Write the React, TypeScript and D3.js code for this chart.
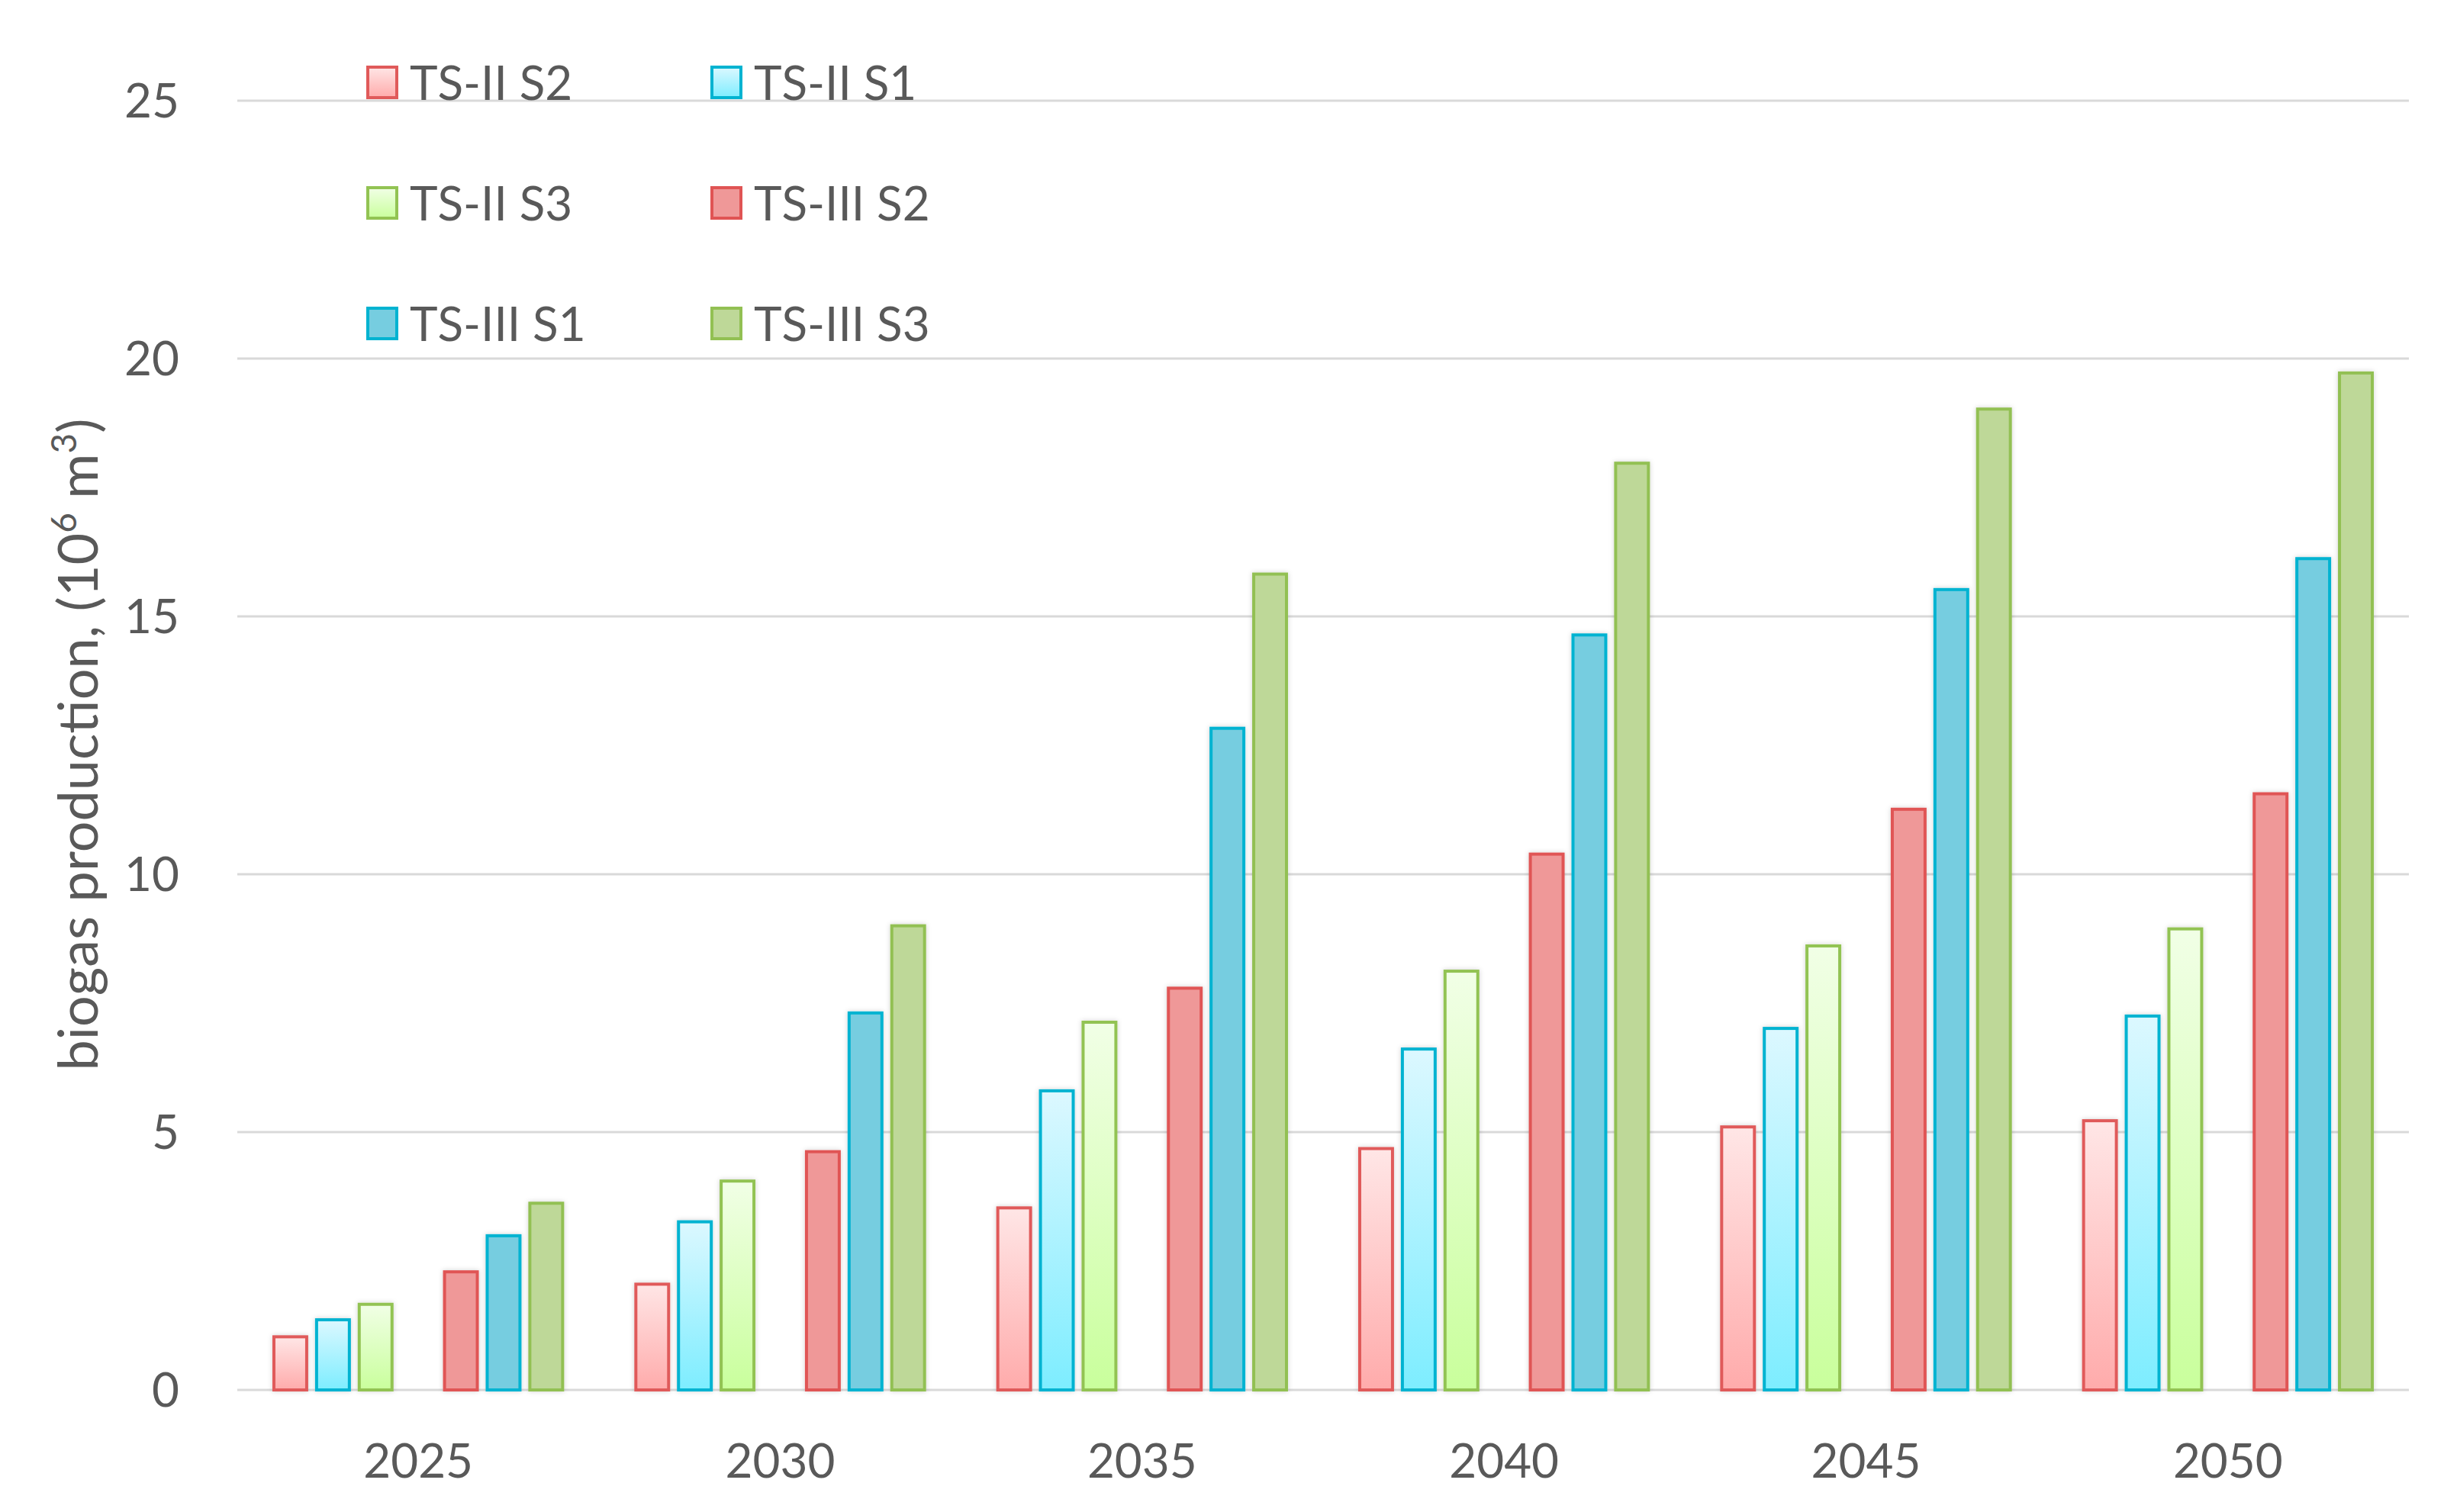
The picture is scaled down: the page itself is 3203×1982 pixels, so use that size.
import React from "react";
import * as d3 from "d3";

const years = ["2025", "2030", "2035", "2040", "2045", "2050"];
const seriesNames = ["TS-II S2", "TS-II S1", "TS-II S3", "TS-III S2", "TS-III S1", "TS-III S3"];
const tsIIS2 = [1.06, 2.08, 3.56, 4.71, 5.13, 5.25];
const tsIIS1 = [1.39, 3.29, 5.83, 6.64, 7.04, 7.28];
const tsIIS3 = [1.69, 4.08, 7.16, 8.15, 8.64, 8.97];
const tsIIIS2 = [2.32, 4.65, 7.82, 10.42, 11.29, 11.59];
const tsIIIS1 = [3.02, 7.34, 12.86, 14.67, 15.55, 16.15];
const tsIIIS3 = [3.65, 9.03, 15.85, 18.0, 19.05, 19.75];
const yTicks = [0, 5, 10, 15, 20, 25];
// slot index of each series within a category (slot 3 is an empty gap)
const slots = [0, 1, 2, 4, 5, 6];

const seriesValues = [tsIIS2, tsIIS1, tsIIS3, tsIIIS2, tsIIIS1, tsIIIS3];

type Style = { stroke: string; top: string; bottom: string };
const styles: Style[] = [
  { stroke: "#e05a5a", top: "#ffe6e6", bottom: "#ffabab" },
  { stroke: "#00b3d1", top: "#dcf8ff", bottom: "#7dedff" },
  { stroke: "#92c353", top: "#f1ffe6", bottom: "#c9ff9c" },
  { stroke: "#e05454", top: "#ef9898", bottom: "#ef9898" },
  { stroke: "#00b3d1", top: "#76cde0", bottom: "#76cde0" },
  { stroke: "#92c053", top: "#bed898", bottom: "#bed898" },
];

const W = 3203;
const H = 1982;
const left = 311;
const right = 3157;
const y0 = 1822;
const y25 = 132;
const FONT = "Lato, 'Open Sans', sans-serif";
const TEXT = "#595959";

export default function App() {
  const x = d3.scaleBand<string>().domain(years).range([left, right]).padding(0);
  const y = d3.scaleLinear().domain([0, 25]).range([y0, y25]);
  const pitch = 55.9;
  const inner = d3
    .scaleBand<number>()
    .domain(d3.range(7))
    .range([-3.5 * pitch, 3.5 * pitch])
    .paddingInner(0.16)
    .paddingOuter(0.08);
  const bw = inner.bandwidth();
  const sw = 4;

  const legendRows = [108, 266, 424];
  const legendCols = [480, 931];

  return (
    <svg
      width={W}
      height={H}
      viewBox={`0 0 ${W} ${H}`}
      style={{ position: "absolute", left: 0, top: 0, background: "#fff" }}
      fontFamily={FONT}
    >
      <defs>
        {styles.map((s, i) => (
          <linearGradient key={i} id={`g${i}`} x1="0" y1="0" x2="0" y2="1">
            <stop offset="0%" stopColor={s.top} />
            <stop offset="100%" stopColor={s.bottom} />
          </linearGradient>
        ))}
        <filter id="sh" x="-30%" y="-5%" width="160%" height="110%">
          <feDropShadow dx="0" dy="0" stdDeviation="3" floodColor="#000" floodOpacity="0.18" />
        </filter>
      </defs>

      {/* gridlines */}
      {yTicks.map((t) => (
        <line
          key={t}
          x1={left}
          x2={right}
          y1={y(t)}
          y2={y(t)}
          stroke="#d9d9d9"
          strokeWidth={3}
        />
      ))}

      {/* y tick labels */}
      {yTicks.map((t) => (
        <text
          key={t}
          x={235}
          y={y(t)}
          dy="0.35em"
          textAnchor="end"
          fontSize={62}
          fill={TEXT}
        >
          {t}
        </text>
      ))}

      {/* axis title */}
      <text
        transform={`translate(128, 976) rotate(-90)`}
        textAnchor="middle"
        fontSize={72}
        fill={TEXT}
      >
        biogas production, (10
        <tspan fontSize={46} dy={-28}>6</tspan>
        <tspan dy={28}> m</tspan>
        <tspan fontSize={46} dy={-28}>3</tspan>
        <tspan dy={28}>)</tspan>
      </text>

      {/* bars */}
      {seriesValues.map((vals, si) => (
        <g key={si} filter="url(#sh)">
          {vals.map((v, ci) => {
            const cx = (x(years[ci]) as number) + x.bandwidth() / 2;
            const bx = cx + (inner(slots[si]) as number);
            const top = y(v);
            return (
              <rect
                key={ci}
                x={bx + sw / 2}
                y={top + sw / 2}
                width={bw - sw}
                height={y0 - top - sw / 2}
                fill={`url(#g${si})`}
                stroke={styles[si].stroke}
                strokeWidth={sw}
              />
            );
          })}
        </g>
      ))}

      {/* x labels */}
      {years.map((yr) => (
        <text
          key={yr}
          x={(x(yr) as number) + x.bandwidth() / 2}
          y={1937}
          textAnchor="middle"
          fontSize={62}
          fill={TEXT}
        >
          {yr}
        </text>
      ))}

      {/* legend */}
      {seriesNames.map((name, i) => {
        const row = Math.floor(i / 2);
        const col = i % 2;
        const cy = legendRows[row];
        const mx = legendCols[col];
        return (
          <g key={name}>
            <rect
              x={mx + 2}
              y={cy - 20}
              width={38}
              height={40}
              fill={`url(#g${i})`}
              stroke={styles[i].stroke}
              strokeWidth={4}
            />
            <text x={mx + 57} y={cy + 23} fontSize={62} fill={TEXT}>
              {name}
            </text>
          </g>
        );
      })}
    </svg>
  );
}
